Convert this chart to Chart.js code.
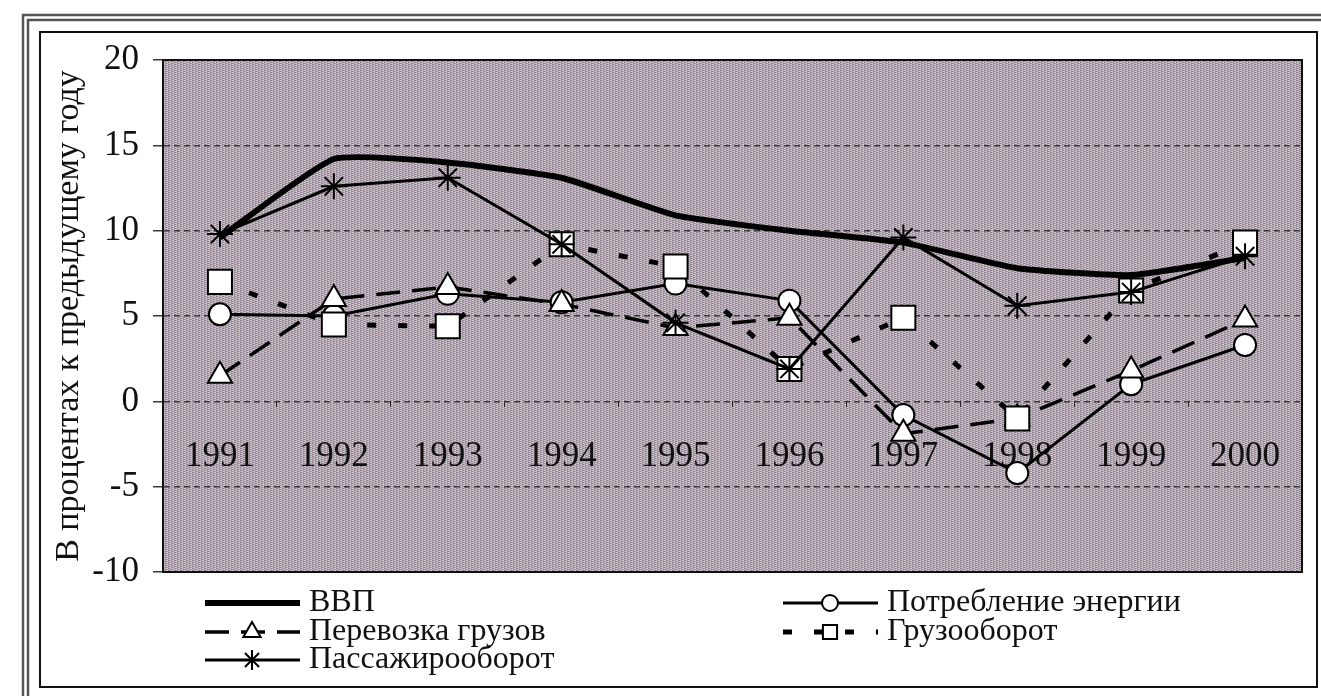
<!DOCTYPE html>
<html>
<head>
<meta charset="utf-8">
<script src="https://cdn.jsdelivr.net/npm/chart.js@4.4.0/dist/chart.umd.min.js"></script>
<style>
  html, body { margin: 0; padding: 0; background: #fff; }
  #wrap { width: 1321px; height: 696px; position: relative; }
</style>
</head>
<body>
<div id="wrap"><canvas id="myChart"></canvas></div>
<script>
// Data
const years = ['1991', '1992', '1993', '1994', '1995', '1996', '1997', '1998', '1999', '2000'];
const vvp = [9.6, 14.2, 14.0, 13.1, 10.9, 10.0, 9.3, 7.8, 7.4, 8.4];
const energy = [5.1, 5.0, 6.3, 5.8, 6.9, 5.9, -0.8, -4.2, 1.0, 3.3];
const freight = [1.5, 6.0, 6.7, 5.7, 4.3, 4.9, -1.9, -1.0, 1.8, 4.8];
const freightTurnover = [7.0, 4.5, 4.4, 9.2, 7.9, 1.9, 4.9, -1.0, 6.5, 9.3];
const passengerTurnover = [9.8, 12.6, 13.1, 9.2, 4.6, 1.9, 9.6, 5.6, 6.4, 8.5];
const yTicks = [-10, -5, 0, 5, 10, 15, 20];

const FONT = 'Liberation Serif';

// hatched grey background of the plot
const makeHatch = () => {
  const c = document.createElement('canvas');
  c.width = 6; c.height = 2;
  const g = c.getContext('2d');
  for (let y = 0; y < 2; y++) {
    for (let x = 0; x < 6; x++) {
      const k = (x + 3 * y) % 6;
      g.fillStyle = k < 2 ? '#8e8392' : (k < 4 ? '#b0a4b0' : '#d2c6cc');
      g.fillRect(x, y, 1, 1);
    }
  }
  return c;
};

// Frame round the whole picture + plot background
const backdrop = {
  id: 'backdrop',
  beforeDraw(chart) {
    const ctx = chart.ctx;
    const a = chart.chartArea;
    ctx.save();
    ctx.strokeStyle = '#555';
    ctx.lineWidth = 2.5;
    ctx.beginPath();
    ctx.moveTo(23, 696); ctx.lineTo(23, 15); ctx.lineTo(1321, 15);
    ctx.moveTo(28, 696); ctx.lineTo(28, 20); ctx.lineTo(1321, 20);
    ctx.stroke();
    ctx.strokeStyle = '#111';
    ctx.lineWidth = 2;
    ctx.strokeRect(40, 32, 1277, 655);
    ctx.fillStyle = ctx.createPattern(makeHatch(), 'repeat');
    ctx.fillRect(a.left, a.top, a.right - a.left, a.bottom - a.top);
    ctx.restore();
  },
  beforeDatasetsDraw(chart) {
    const ctx = chart.ctx;
    const a = chart.chartArea;
    ctx.save();
    ctx.strokeStyle = '#111';
    ctx.lineWidth = 2;
    ctx.strokeRect(a.left, a.top, a.right - a.left, a.bottom - a.top);
    ctx.restore();
  }
};

// Legend in two columns under the plot
const legendSlots = [
  { ds: 0, x: 205, y: 603, pr: 0 },
  { ds: 2, x: 205, y: 632, pr: 10 },
  { ds: 4, x: 205, y: 660, pr: 10 },
  { ds: 1, x: 783, y: 603, pr: 8 },
  { ds: 3, x: 783, y: 632, pr: 10 }
];
const twoColLegend = {
  id: 'twoColLegend',
  afterDraw(chart) {
    const ctx = chart.ctx;
    ctx.save();
    legendSlots.forEach(s => {
      const ds = chart.data.datasets[s.ds];
      ctx.strokeStyle = '#000';
      ctx.lineWidth = ds.borderWidth;
      ctx.setLineDash(ds.borderDash || []);
      ctx.beginPath();
      ctx.moveTo(s.x, s.y);
      ctx.lineTo(s.x + 95, s.y);
      ctx.stroke();
      ctx.setLineDash([]);
      if (s.pr > 0) {
        ctx.fillStyle = '#fff';
        ctx.lineWidth = 2;
        Chart.helpers.drawPoint(ctx, { pointStyle: ds.pointStyle, rotation: 0, radius: s.pr, borderWidth: 2 }, s.x + 47, s.y);
      }
      ctx.fillStyle = '#111';
      ctx.font = '32px "' + FONT + '"';
      ctx.textBaseline = 'middle';
      ctx.textAlign = 'left';
      ctx.fillText(ds.label, s.x + 104, s.y);
    });
    ctx.restore();
  }
};

const marker = (style, r) => ({
  pointStyle: style,
  pointRadius: r,
  pointHoverRadius: r,
  pointBackgroundColor: '#fff',
  pointBorderColor: '#000',
  pointBorderWidth: 2
});

const ctx = document.getElementById('myChart').getContext('2d');
const chart = new Chart(ctx, {
  type: 'line',
  data: {
    labels: years,
    datasets: [
      { label: 'ВВП', data: vvp, borderColor: '#000', borderWidth: 6, pointRadius: 0, tension: 0.15, order: 5 },
      Object.assign({ label: 'Потребление энергии', data: energy, borderColor: '#000', borderWidth: 3, order: 4 }, marker('circle', 11)),
      Object.assign({ label: 'Перевозка грузов', data: freight, borderColor: '#000', borderWidth: 3.5, borderDash: [24, 12], order: 3 }, marker('triangle', 14)),
      Object.assign({ label: 'Грузооборот', data: freightTurnover, borderColor: '#000', borderWidth: 5, borderDash: [9, 22], order: 2 }, marker('rect', 17)),
      Object.assign({ label: 'Пассажирооборот', data: passengerTurnover, borderColor: '#000', borderWidth: 3, order: 1 }, marker('star', 13))
    ]
  },
  options: {
    responsive: true,
    maintainAspectRatio: false,
    animation: false,
    layout: { padding: { left: 0, top: 60, right: 0, bottom: 124 } },
    plugins: {
      legend: { display: false },
      tooltip: { enabled: false }
    },
    scales: {
      x: {
        position: { y: 0 },
        offset: true,
        grid: { display: true, drawOnChartArea: false, drawTicks: true, tickLength: 6, offset: true, color: '#222' },
        border: { display: false },
        ticks: { padding: 28, color: '#111', maxRotation: 0, autoSkip: false, font: { family: FONT, size: 35 } },
        afterFit: (scale) => { scale.height = 0; }
      },
      y: {
        min: -10,
        max: 20,
        afterBuildTicks: (scale) => { scale.ticks = yTicks.map(v => ({ value: v })); },
        afterFit: (scale) => { scale.width = 163; },
        grid: { color: '#3a3a3a', lineWidth: 1.5, tickLength: 10 },
        border: { display: true, color: '#111', width: 2, dash: [6, 4] },
        ticks: { padding: 14, color: '#111', font: { family: FONT, size: 35 } },
        title: {
          display: true,
          text: 'В процентах к предыдущему году',
          color: '#111',
          font: { family: FONT, size: 34 },
          padding: { top: 49, bottom: 0 }
        }
      }
    }
  },
  plugins: [backdrop, twoColLegend]
});
</script>
</body>
</html>
